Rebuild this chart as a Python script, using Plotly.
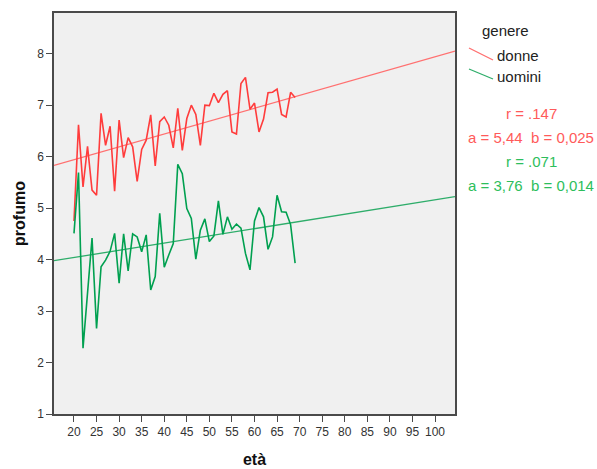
import plotly.graph_objects as go

ages = list(range(20, 70))
donne = [4.75, 6.62, 5.41, 6.20, 5.35, 5.25, 6.84, 6.22, 6.59, 5.33,
         6.71, 5.98, 6.37, 6.19, 5.52, 6.14, 6.32, 6.81, 5.82, 6.68,
         6.77, 6.61, 6.17, 6.94, 6.12, 6.74, 7.00, 6.82, 6.22, 7.00,
         6.99, 7.23, 7.05, 7.21, 7.28, 6.48, 6.44, 7.42, 7.54, 6.92,
         7.04, 6.48, 6.73, 7.24, 7.25, 7.31, 6.82, 6.77, 7.25, 7.15]
uomini = [4.51, 5.69, 2.28, 3.35, 4.42, 2.66, 3.86, 3.99, 4.16, 4.51,
          3.54, 4.50, 3.78, 4.50, 4.44, 4.15, 4.48, 3.41, 3.67, 4.90,
          3.85, 4.09, 4.31, 5.85, 5.67, 4.99, 4.80, 4.01, 4.57, 4.79,
          4.35, 4.46, 5.14, 4.49, 4.83, 4.59, 4.69, 4.61, 4.12, 3.80,
          4.75, 5.01, 4.83, 4.20, 4.44, 5.25, 4.93, 4.92, 4.68, 3.93]

fit_donne = (5.44, 0.025)
fit_uomini = (3.76, 0.014)

x_range = [15.57, 104.43]
y_range = [1, 8.79]
x_ticks = list(range(20, 101, 5))
y_ticks = list(range(1, 9))

RED = "#FF3C3C"
RED_FIT = "#FF7070"
GREEN = "#00A050"
GREEN_FIT = "#2EAD6A"
RED_TXT = "#FF5A5A"
GREEN_TXT = "#2DBE5C"

fig = go.Figure()
for a, b, col in [(fit_donne[0], fit_donne[1], RED_FIT), (fit_uomini[0], fit_uomini[1], GREEN_FIT)]:
    fig.add_trace(go.Scatter(x=x_range, y=[a + b * x_range[0], a + b * x_range[1]],
                             mode="lines", line=dict(color=col, width=1.3),
                             showlegend=False, hoverinfo="skip"))
fig.add_trace(go.Scatter(x=ages, y=donne, mode="lines", name="donne",
                         line=dict(color=RED, width=1.6), showlegend=False))
fig.add_trace(go.Scatter(x=ages, y=uomini, mode="lines", name="uomini",
                         line=dict(color=GREEN, width=1.6), showlegend=False))

W, H = 597, 469
L, R, T, B = 54, 142, 13, 55
pw, ph = W - L - R, H - T - B

def px(x):
    return (x - L) / pw

def py(y):
    return (H - B - y) / ph

font = "Liberation Sans, Arial, sans-serif"
annotations = [
    dict(text="genere", x=px(480), y=py(30), xanchor="left", yanchor="middle",
         font=dict(size=15, color="#222")),
    dict(text="donne", x=px(495), y=py(55), xanchor="left", yanchor="middle",
         font=dict(size=15, color="#222")),
    dict(text="uomini", x=px(495), y=py(76), xanchor="left", yanchor="middle",
         font=dict(size=15, color="#222")),
    dict(text="r = .147", x=px(531), y=py(114), xanchor="center", yanchor="middle",
         font=dict(size=15, color=RED_TXT)),
    dict(text="a = 5,44  b = 0,025", x=px(531), y=py(137), xanchor="center", yanchor="middle",
         font=dict(size=15, color=RED_TXT)),
    dict(text="r = .071", x=px(531), y=py(162), xanchor="center", yanchor="middle",
         font=dict(size=15, color=GREEN_TXT)),
    dict(text="a = 3,76  b = 0,014", x=px(531), y=py(185), xanchor="center", yanchor="middle",
         font=dict(size=15, color=GREEN_TXT)),
]
for an in annotations:
    an.update(xref="paper", yref="paper", showarrow=False)

shapes = [
    dict(type="line", xref="paper", yref="paper", x0=px(469), y0=py(48), x1=px(493), y1=py(60),
         line=dict(color=RED_FIT, width=1.3)),
    dict(type="line", xref="paper", yref="paper", x0=px(469), y0=py(69), x1=px(493), y1=py(79),
         line=dict(color=GREEN_FIT, width=1.3)),
]

fig.update_layout(
    width=W, height=H,
    margin=dict(l=L, r=R, t=T, b=B, autoexpand=False),
    paper_bgcolor="white", plot_bgcolor="#F0F0F0",
    font=dict(family=font, color="#333"),
    annotations=annotations, shapes=shapes,
    showlegend=False,
)
fig.update_xaxes(range=x_range, tickvals=x_ticks, showgrid=False, zeroline=False,
                 showline=True, linecolor="#4a4a4a", linewidth=1.5, mirror=True,
                 ticks="outside", ticklen=6, tickcolor="#4a4a4a", tickwidth=1.2,
                 tickfont=dict(size=12, color="#333"),
                 title=dict(text="<b>età</b>", font=dict(size=16, color="#111"), standoff=16))
fig.update_yaxes(range=y_range, tickvals=y_ticks, showgrid=False, zeroline=False,
                 showline=True, linecolor="#4a4a4a", linewidth=1.5, mirror=True,
                 ticks="outside", ticklen=6, tickcolor="#4a4a4a", tickwidth=1.2,
                 tickfont=dict(size=12, color="#333"),
                 title=dict(text="<b>profumo</b>", font=dict(size=16, color="#111"), standoff=8))

fig.write_html("out.html")
